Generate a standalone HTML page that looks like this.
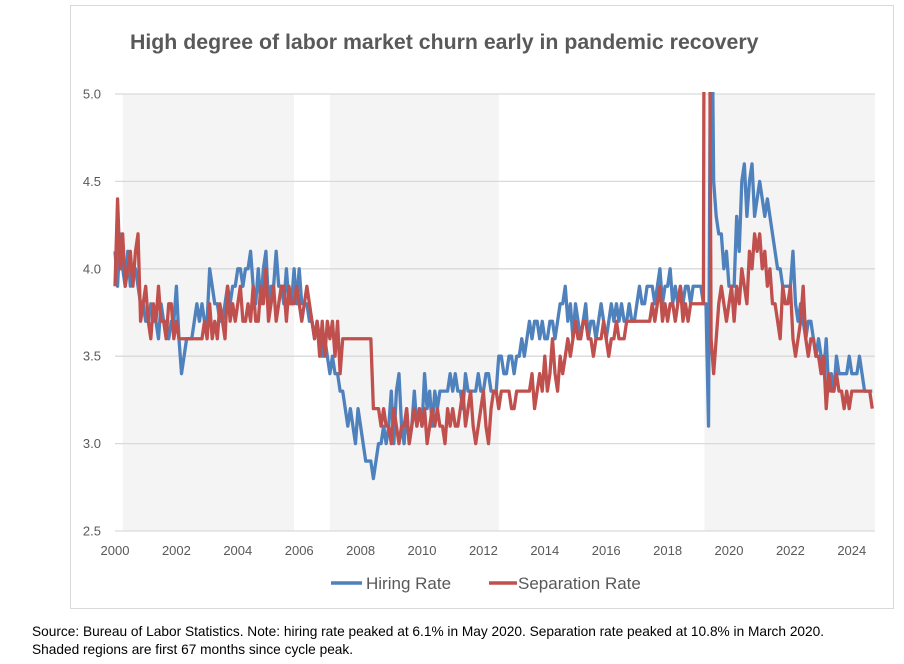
<!DOCTYPE html>
<html><head><meta charset="utf-8"><style>
html,body{margin:0;padding:0;background:#fff;}
body{width:904px;height:664px;position:relative;font-family:"Liberation Sans",Arial,sans-serif;overflow:hidden;}
#src{position:absolute;left:32px;top:623px;font-size:13.7px;line-height:18px;color:#000;}
</style></head><body>
<svg id="chart" width="904" height="664" style="position:absolute;left:0;top:0">
<rect x="70.5" y="5.5" width="823" height="603" fill="#fff" stroke="#d9d9d9"/>
<text x="130" y="49" font-size="21.3" font-weight="bold" fill="#595959">High degree of labor market churn early in pandemic recovery</text>
<defs><clipPath id="pc"><rect x="100" y="92" width="800" height="441"/></clipPath></defs>
<g id="shade"></g><g id="grid"></g><g id="ylab"></g><g id="xlab"></g>
<g id="lines" clip-path="url(#pc)"></g>
<g>
<line x1="331" y1="583" x2="362" y2="583" stroke="#4F81BD" stroke-width="3.5"/>
<text x="366" y="589" font-size="17" fill="#595959">Hiring Rate</text>
<line x1="489" y1="583" x2="517" y2="583" stroke="#C0504D" stroke-width="3.5"/>
<text x="518" y="589" font-size="17" fill="#595959">Separation Rate</text>
</g>
</svg>
<div id="src">Source: Bureau of Labor Statistics. Note: hiring rate peaked at 6.1% in May 2020. Separation rate peaked at 10.8% in March 2020.<br>Shaded regions are first 67 months since cycle peak.</div>
<script>
const yTicks=[2.5,3.0,3.5,4.0,4.5,5.0];
const xTicks=[2000,2002,2004,2006,2008,2010,2012,2014,2016,2018,2020,2022,2024];
const shadeRanges=[[2000.25,2005.83],[2007.0,2012.5],[2019.2,2024.75]];
const hiring=[
4.1,3.9,4.2,4.0,3.9,4.1,3.9,4.0,4.0,3.9,3.8,3.8,
3.7,3.7,3.8,3.7,3.7,3.6,3.8,3.7,3.7,3.6,3.7,3.7,
3.9,3.6,3.4,3.5,3.6,3.6,3.6,3.7,3.8,3.7,3.8,3.7,
3.7,4.0,3.9,3.8,3.8,3.7,3.7,3.8,3.9,3.8,3.9,3.9,
4.0,4.0,3.9,4.0,4.0,4.1,3.9,3.8,4.0,3.8,4.0,4.1,
3.8,3.9,3.9,4.1,3.9,3.9,3.8,4.0,3.8,3.8,4.0,3.8,
4.0,3.8,3.8,3.8,3.7,3.7,3.6,3.7,3.6,3.5,3.6,3.5,
3.4,3.5,3.4,3.4,3.3,3.3,3.2,3.1,3.2,3.1,3.0,3.2,
3.1,3.0,2.9,2.9,2.9,2.8,2.9,3.0,3.0,3.1,3.0,3.1,
3.3,3.0,3.3,3.4,3.1,3.0,3.2,3.0,3.1,3.3,3.1,3.2,
3.1,3.4,3.2,3.3,3.1,3.3,3.2,3.3,3.3,3.3,3.3,3.4,
3.3,3.4,3.3,3.3,3.2,3.4,3.3,3.3,3.3,3.3,3.4,3.3,
3.3,3.4,3.4,3.3,3.3,3.3,3.5,3.5,3.4,3.4,3.5,3.5,
3.4,3.5,3.5,3.6,3.5,3.6,3.7,3.6,3.7,3.7,3.6,3.7,
3.6,3.6,3.7,3.7,3.6,3.7,3.8,3.8,3.9,3.7,3.8,3.6,
3.8,3.7,3.6,3.7,3.8,3.6,3.7,3.7,3.6,3.7,3.8,3.7,
3.6,3.7,3.8,3.7,3.8,3.7,3.8,3.7,3.7,3.8,3.7,3.7,
3.8,3.9,3.8,3.8,3.9,3.9,3.9,3.8,3.9,4.0,3.8,3.9,
3.9,4.0,3.8,3.9,3.8,3.9,3.8,3.9,3.9,3.8,3.9,3.9,
3.9,3.9,3.8,3.8,3.1,6.1,4.5,4.3,4.2,4.2,4.0,4.1,
3.9,3.9,3.9,4.3,4.1,4.5,4.6,4.3,4.5,4.6,4.3,4.4,
4.5,4.4,4.3,4.4,4.3,4.2,4.1,4.0,4.0,3.9,3.9,3.9,
3.9,4.1,3.8,3.7,3.8,3.7,3.6,3.7,3.7,3.6,3.5,3.6,
3.5,3.4,3.6,3.3,3.4,3.3,3.5,3.4,3.4,3.4,3.4,3.5,
3.4,3.4,3.4,3.5,3.4,3.3,3.3,3.3,3.3];
const separation=[
3.9,4.4,4.0,4.2,3.9,4.0,4.1,3.9,4.1,4.2,3.7,3.8,
3.9,3.7,3.6,3.8,3.7,3.9,3.7,3.7,3.6,3.8,3.8,3.6,
3.7,3.6,3.6,3.6,3.6,3.6,3.6,3.6,3.6,3.6,3.6,3.7,
3.6,3.8,3.6,3.7,3.6,3.8,3.7,3.6,3.9,3.7,3.8,3.7,
3.8,3.9,3.7,3.7,3.8,3.7,3.9,3.7,3.7,3.9,3.8,4.0,
3.7,3.8,3.9,3.7,3.8,3.9,3.9,3.7,3.9,3.8,3.8,3.9,
3.8,3.7,3.8,3.9,3.8,3.7,3.6,3.7,3.5,3.7,3.5,3.7,
3.6,3.7,3.5,3.7,3.4,3.6,3.6,3.6,3.6,3.6,3.6,3.6,
3.6,3.6,3.6,3.6,3.6,3.2,3.2,3.2,3.1,3.2,3.1,3.1,
3.0,3.2,3.1,3.0,3.1,3.1,3.2,3.0,3.1,3.2,3.1,3.2,
3.1,3.2,3.0,3.1,3.2,3.1,3.2,3.1,3.1,3.0,3.2,3.1,
3.2,3.1,3.1,3.2,3.3,3.1,3.2,3.3,3.1,3.0,3.1,3.2,
3.3,3.1,3.0,3.2,3.3,3.3,3.2,3.3,3.3,3.3,3.3,3.2,
3.2,3.3,3.3,3.3,3.3,3.3,3.3,3.4,3.2,3.3,3.4,3.3,
3.5,3.3,3.4,3.6,3.4,3.3,3.5,3.4,3.5,3.6,3.5,3.6,
3.7,3.6,3.6,3.7,3.7,3.6,3.6,3.5,3.6,3.6,3.6,3.7,
3.6,3.5,3.6,3.6,3.7,3.6,3.6,3.6,3.7,3.7,3.7,3.7,
3.7,3.7,3.7,3.7,3.7,3.7,3.8,3.7,3.8,3.9,3.7,3.8,
3.7,3.8,3.8,3.7,3.8,3.9,3.7,3.8,3.7,3.8,3.8,3.8,
3.8,3.8,3.8,10.8,7.0,3.6,3.4,3.6,3.8,3.9,3.8,3.7,
3.8,3.9,3.7,3.9,3.8,4.0,3.9,3.8,4.1,4.0,4.2,4.1,
4.2,4.0,4.1,3.9,4.0,3.8,3.8,3.7,3.6,3.9,3.8,3.8,
3.9,3.6,3.5,3.6,3.7,3.9,3.6,3.5,3.6,3.6,3.5,3.5,
3.4,3.5,3.2,3.4,3.3,3.3,3.4,3.3,3.3,3.2,3.3,3.2,
3.3,3.3,3.3,3.3,3.3,3.3,3.3,3.3,3.2];
const NS="http://www.w3.org/2000/svg";
const X0=115,X1=875,T0=2000,PX_YR=30.7;
function xYear(t){return X0+(t-T0)*PX_YR;}
function xIdx(i){return xYear(T0+i/12);}
function yv(v){return 531-(v-2.5)/2.5*437;}
function mk(tag,attrs,parent){const e=document.createElementNS(NS,tag);for(const k in attrs)e.setAttribute(k,attrs[k]);document.getElementById(parent).appendChild(e);return e;}
shadeRanges.forEach((r)=>{
 const e=mk('rect',{x:xYear(r[0]),y:yv(5),width:xYear(r[1])-xYear(r[0]),height:yv(2.5)-yv(5),fill:'#f4f4f4'},'shade');
 
 
});
yTicks.forEach(v=>{
 const g=mk('line',{x1:X0,x2:X1,y1:yv(v),y2:yv(v),stroke:'#d9d9d9','stroke-width':1.3},'grid');
 
 
 const t=mk('text',{x:101,y:yv(v)+4.5,'text-anchor':'end','font-size':13,fill:'#595959'},'ylab');
 t.textContent=v.toFixed(1);
 
 
});
xTicks.forEach(yr=>{
 const t=mk('text',{x:xYear(yr),y:555,'text-anchor':'middle','font-size':13,fill:'#595959'},'xlab');
 t.textContent=yr;
 
 
});
function line(arr,color,name){
 const d=arr.map((v,i)=>(i?'L':'M')+xIdx(i).toFixed(2)+','+yv(v).toFixed(2)).join('');
 const p=mk('path',{d:d,fill:'none',stroke:color,'stroke-width':3.3,'stroke-linejoin':'round'},'lines');
 
 
}
line(hiring,'#4F81BD','hiring-rate-line');
line(separation,'#C0504D','separation-rate-line');
</script>
</body></html>
